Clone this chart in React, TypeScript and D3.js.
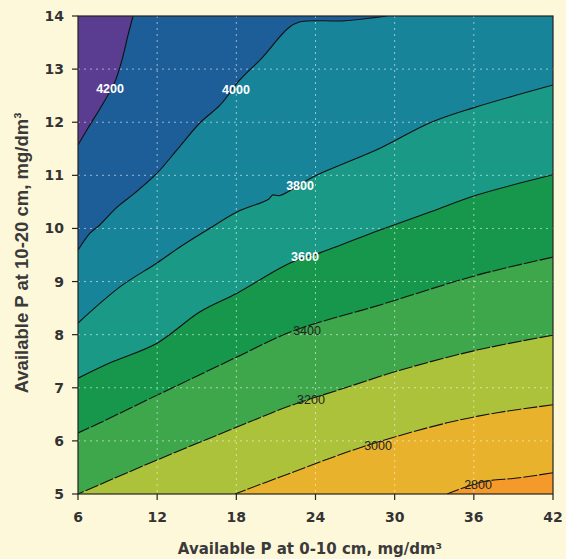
import React from "react";
import * as d3 from "d3";

// contour levels (kg/ha) and band colours, lowest first
const levels = [2800, 3000, 3200, 3400, 3600, 3800, 4000, 4200];
const bandColors = [
  "#f39a2b", // < 2800
  "#e8b22d",
  "#acc23b",
  "#3ea64b",
  "#16974b",
  "#1a9986",
  "#18849a",
  "#1d5d98",
  "#5a3c90", // > 4200
];

// contour lines, [P 0-10, P 10-20], from right/top end to left/bottom end
const line2800 = [[42, 5.4], [39.27, 5.3], [36.69, 5.23], [33.97, 5]];
const line3000 = [[42, 6.68], [37.76, 6.53], [33.97, 6.34], [27.6, 5.89], [21.31, 5.32], [17.9, 5]];
const line3200 = [[42, 7.99], [36.24, 7.71], [30.4, 7.33], [26.39, 7.01], [22.07, 6.66], [18.05, 6.26], [11.99, 5.64], [6, 5]];
const line3400 = [[42, 9.46], [36.24, 9.12], [28.89, 8.56], [22.3, 8.07], [18.05, 7.58], [14.26, 7.13], [11.23, 6.77], [7.67, 6.34], [6, 6.15]];
const line3600 = [[42, 11.01], [36.24, 10.63], [32.68, 10.31], [28.89, 9.97], [24.34, 9.54], [22.07, 9.35], [18.05, 8.78], [15.25, 8.43], [11.99, 7.84], [8.43, 7.47], [6, 7.18]];
const line3800 = [[42, 12.7], [35.94, 12.27], [32.68, 11.99], [28.89, 11.51], [23.81, 10.97], [21.31, 10.62], [20.75, 10.63], [20.45, 10.55], [18.05, 10.31], [15.78, 9.97], [13.73, 9.65], [11.99, 9.35], [9.18, 8.9], [6, 8.22]];
const line4000 = [[29.42, 14], [26.24, 13.91], [22.83, 13.89], [21.92, 13.77], [19.95, 13.21], [18.28, 12.8], [16.76, 12.32], [15.25, 11.99], [13.5, 11.48], [11.99, 11.04], [10.32, 10.67], [8.96, 10.4], [7.67, 10.07], [6.91, 9.91], [6, 9.59]];
const line4200 = [[10.17, 14], [9.79, 13.64], [9.33, 13.17], [8.8, 12.76], [7.82, 12.32], [6.76, 11.89], [6, 11.57]];
const contourLines = [line2800, line3000, line3200, line3400, line3600, line3800, line4000, line4200];

// label anchor positions in data units
const labelPos = [[36.32, 5.17], [28.74, 5.92], [23.66, 6.77], [23.36, 8.07], [23.2, 9.46], [22.83, 10.8], [17.97, 12.61], [8.43, 12.64]];

const xTicks = [6, 12, 18, 24, 30, 36, 42];
const yTicks = [5, 6, 7, 8, 9, 10, 11, 12, 13, 14];

const W = 566;
const H = 559;
const margin = { top: 16, right: 13, bottom: 65, left: 78 };
const font = "'Liberation Sans', Arial, sans-serif";
const tickFont = "'DejaVu Sans', sans-serif";

const App = () => {
  const iw = W - margin.left - margin.right;
  const ih = H - margin.top - margin.bottom;

  const x = d3.scaleLinear().domain([6, 42]).range([0, iw]);
  const y = d3.scaleLinear().domain([5, 14]).range([ih, 0]);

  const line = d3
    .line<number[]>()
    .x((d) => x(d[0]))
    .y((d) => y(d[1]))
    .curve(d3.curveCatmullRom.alpha(0.5));

  // close each line over the higher (upper-left) side of the plot
  const area = (pts: number[][]) => {
    const first = pts[0];
    const last = pts[pts.length - 1];
    const corners: number[][] = [];
    if (last[1] === 5) corners.push([6, 5]);
    corners.push([6, 14]);
    if (first[0] === 42) corners.push([42, 14]);
    return line(pts) + corners.map((c) => `L${x(c[0])},${y(c[1])}`).join("") + "Z";
  };

  return (
    <svg width={W} height={H} style={{ position: "absolute", left: 0, top: 0 }}>
      <rect width={W} height={H} fill="#fef8da" />
      <defs>
        <clipPath id="plot">
          <rect width={iw} height={ih} />
        </clipPath>
      </defs>
      <g transform={`translate(${margin.left},${margin.top})`}>
        <g clipPath="url(#plot)">
          <rect width={iw} height={ih} fill={bandColors[0]} />
          {contourLines.map((pts, i) => (
            <path key={i} d={area(pts)} fill={bandColors[i + 1]} />
          ))}
          {xTicks.slice(1, -1).map((t) => (
            <line key={"gx" + t} x1={x(t)} x2={x(t)} y1={0} y2={ih}
              stroke="#ffffff" strokeOpacity={0.55} strokeDasharray="2,4" />
          ))}
          {yTicks.slice(1, -1).map((t) => (
            <line key={"gy" + t} x1={0} x2={iw} y1={y(t)} y2={y(t)}
              stroke="#ffffff" strokeOpacity={0.55} strokeDasharray="2,4" />
          ))}
          {contourLines.map((pts, i) => (
            <path key={"l" + i} d={line(pts) || ""} fill="none" stroke="#111"
              strokeWidth={1.1} strokeDasharray={i < 4 ? "14,2" : undefined} />
          ))}
          {levels.map((lv, i) => (
            <text key={"t" + lv} x={x(labelPos[i][0])} y={y(labelPos[i][1])}
              dy="0.35em" textAnchor="middle" fontFamily={font} fontSize={12.5}
              fontWeight={i >= 4 ? "bold" : "normal"}
              fill={i >= 4 ? "#ffffff" : "#222"}>
              {lv}
            </text>
          ))}
        </g>
        <rect width={iw} height={ih} fill="none" stroke="#222" strokeWidth={1.2} />
        {xTicks.map((t) => (
          <g key={"xt" + t} transform={`translate(${x(t)},${ih})`}>
            <line y2={6} stroke="#222" strokeWidth={1.2} />
            <text y={28} textAnchor="middle" fontFamily={tickFont} fontSize={14}
              fontWeight="bold" fill="#333">{t}</text>
          </g>
        ))}
        {yTicks.map((t) => (
          <g key={"yt" + t} transform={`translate(0,${y(t)})`}>
            <line x2={-6} stroke="#222" strokeWidth={1.2} />
            <text x={-14} dy="0.36em" textAnchor="end" fontFamily={tickFont}
              fontSize={14} fontWeight="bold" fill="#333">{t}</text>
          </g>
        ))}
      </g>
      <text x={310} y={554} textAnchor="middle" fontFamily={tickFont}
        fontSize={15} fontWeight="bold" fill="#3a3a3a">
        Available P at 0-10 cm, mg/dm³
      </text>
      <text transform={`translate(28,253) rotate(-90)`}
        textAnchor="middle" fontFamily={font} fontSize={18.5} fontWeight="bold" fill="#3a3a3a">
        Available P at 10-20 cm, mg/dm³
      </text>
    </svg>
  );
};

export default App;
